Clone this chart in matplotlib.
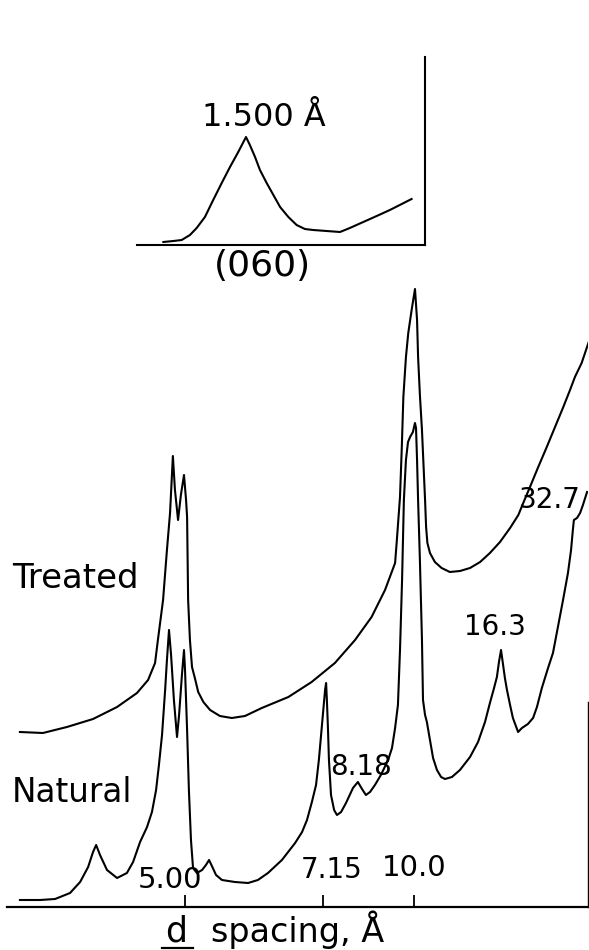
import matplotlib
matplotlib.use("Agg")
import matplotlib.pyplot as plt
import numpy as np
from matplotlib.lines import Line2D

plt.rcParams['font.family'] = ['DejaVu Sans']

# ---------------- data (2-theta in degrees, Cu K-alpha; intensity arbitrary) ----------------
WAVELENGTH = 1.5406

two_theta_natural = [24.10, 23.32, 22.74, 22.16, 21.77, 21.46, 21.27, 21.15, 21.00, 20.73,
                     20.34, 19.96, 19.72, 19.45, 19.18, 18.99, 18.83, 18.72, 18.60, 18.48,
                     18.41, 18.33, 18.25, 18.14, 18.02, 17.94, 17.83, 17.75, 17.71, 17.63,
                     17.56, 17.48, 17.40, 17.25, 17.05, 16.90, 16.78, 16.67, 16.51, 16.28,
                     15.78, 15.27, 14.89, 14.50, 13.96, 13.45, 13.18, 12.99, 12.80, 12.64,
                     12.53, 12.45, 12.37, 12.29, 12.25, 12.22, 12.18, 12.14, 12.06, 11.94,
                     11.83, 11.67, 11.48, 11.21, 11.02, 10.86, 10.71, 10.55, 10.36, 10.13,
                     9.85, 9.70, 9.58, 9.47, 9.39, 9.31, 9.24, 9.16, 9.08, 9.00,
                     8.89, 8.81, 8.77, 8.73, 8.69, 8.62, 8.54, 8.50, 8.42, 8.35,
                     8.23, 8.11, 7.96, 7.80, 7.65, 7.38, 7.07, 6.68, 6.37, 6.10,
                     5.91, 5.75, 5.64, 5.56, 5.48, 5.40, 5.33, 5.25, 5.13, 5.02,
                     4.82, 4.67, 4.44, 4.24, 4.09, 3.90, 3.66, 3.47, 3.28, 3.08,
                     2.89, 2.77, 2.70, 2.66, 2.54, 2.42, 2.31, 2.15]
intensity_natural = [7, 7, 8, 14, 25, 40, 55, 62, 52, 37,
                     29, 34, 45, 65, 80, 95, 117, 142, 172, 217,
                     247, 277, 252, 207, 170, 192, 232, 257, 237, 177,
                     117, 67, 39, 34, 37, 42, 47, 41, 32, 27,
                     25, 24, 27, 34, 47, 64, 75, 87, 105, 122,
                     147, 170, 192, 217, 224, 207, 180, 147, 112, 97,
                     92, 95, 104, 119, 125, 118, 112, 115, 122, 132,
                     147, 159, 179, 202, 257, 327, 407, 447, 465, 470,
                     475, 484, 479, 447, 407, 347, 267, 207, 192, 185,
                     167, 149, 137, 130, 128, 130, 137, 150, 165, 185,
                     204, 219, 230, 245, 257, 242, 229, 217, 202, 189,
                     175, 179, 183, 189, 200, 219, 239, 254, 280, 307,
                     334, 357, 377, 387, 389, 394, 402, 415]

two_theta_treated = [24.10, 23.21, 22.28, 21.27, 20.34, 19.57, 19.14, 18.87, 18.76, 18.56,
                     18.41, 18.29, 18.18, 18.10, 17.98, 17.87, 17.75, 17.67, 17.63, 17.59,
                     17.52, 17.44, 17.32, 17.20, 17.00, 16.74, 16.36, 15.90, 15.39, 14.74,
                     13.71, 12.81, 11.91, 11.13, 10.49, 9.97, 9.58, 9.52, 9.39, 9.32,
                     9.26, 9.16, 9.07, 8.94, 8.81, 8.73, 8.69, 8.62, 8.54, 8.42,
                     8.38, 8.33, 8.23, 8.04, 7.78, 7.46, 7.07, 6.68, 6.29, 5.91,
                     5.52, 5.13, 4.81, 4.62, 4.36, 4.04, 3.71, 3.39, 3.07, 2.81,
                     2.62, 2.36, 2.06]
intensity_treated = [175, 174, 180, 188, 200, 214, 227, 244, 267, 307,
                     357, 394, 451, 417, 387, 412, 432, 407, 390, 307,
                     267, 240, 228, 215, 205, 197, 191, 189, 191, 199,
                     210, 225, 244, 267, 290, 317, 344, 364, 410, 460,
                     510, 550, 574, 597, 618, 587, 550, 512, 477, 407,
                     380, 364, 354, 345, 339, 335, 336, 339, 345, 354,
                     365, 379, 392, 404, 420, 440, 460, 480, 500, 517,
                     530, 544, 567]

two_theta_inset = [65.00, 64.61, 64.29, 63.97, 63.71, 63.39, 63.07, 62.74, 62.42, 62.10,
                   61.80, 61.65, 61.45, 61.26, 61.00, 60.74, 60.48, 60.16, 59.84, 59.52,
                   59.20, 58.68, 58.16, 57.78, 57.26, 56.74, 56.23, 55.77, 55.39]
intensity_inset = [3, 4, 5, 10, 17, 28, 45, 62, 78, 93,
                   108, 100, 88, 75, 62, 50, 38, 28, 20, 16,
                   15, 14, 13, 17, 23, 29, 35, 41, 46]

tick_d_spacings = [5.00, 7.15, 10.0]
tick_labels = ["5.00", "7.15", "10.0"]
peak_labels = ["32.7", "16.3", "8.18"]
series_labels = ["Treated", "Natural"]
inset_peak_label = "1.500 Å"
inset_reflection = "(060)"
x_label_d = "d"
x_label_rest = "spacing, Å"


def d_to_two_theta(d):
    return 2.0 * np.degrees(np.arcsin(WAVELENGTH / (2.0 * np.asarray(d))))


W, H = 589, 950
fig = plt.figure(figsize=(W / 100, H / 100), dpi=100)
fig.patch.set_facecolor("white")


def fx(px):
    return px / W


def fy(py):
    return 1 - py / H


LW = 1.5
# ---------------- main axes ----------------
ax = fig.add_axes([fx(7), fy(907), fx(588) - fx(7), fy(280) - fy(907)])
ax.set_xlim(24.60, 2.114)
ax.set_ylim(0, 627)
ax.set_facecolor("none")
ax.plot(two_theta_natural, intensity_natural, color="black", lw=LW, solid_joinstyle="round")
ax.plot(two_theta_treated, intensity_treated, color="black", lw=LW, solid_joinstyle="round")
for s in ["top", "left"]:
    ax.spines[s].set_visible(False)
ax.spines["bottom"].set_linewidth(1.6)
ax.spines["right"].set_linewidth(1.0)
ax.spines["right"].set_bounds(0, 205)
ax.set_yticks([])
ax.set_xticks(d_to_two_theta(tick_d_spacings))
ax.set_xticklabels([])
ax.tick_params(axis="x", direction="in", length=9, width=1.3, color="black")

# tick value labels (placed above the axis)
tick_label_pos = [(18.29, 27), (12.02, 37), (8.85, 39)]
tick_label_size = [21, 20, 21]
for lab, (x, y), fs in zip(tick_labels, tick_label_pos, tick_label_size):
    ax.text(x, y, lab, ha="center", va="center", fontsize=fs)

peak_label_pos = [(3.59, 407), (5.71, 280), (10.90, 140)]
for lab, (x, y) in zip(peak_labels, peak_label_pos):
    ax.text(x, y, lab, ha="center", va="center", fontsize=20)

fig.text(fx(12), fy(578), series_labels[0], ha="left", va="center", fontsize=24.5)
fig.text(fx(12), fy(793), series_labels[1], ha="left", va="center", fontsize=23.5)

# x-axis title with underlined "d"
fig.text(fx(165), fy(942), x_label_d, ha="left", va="baseline", fontsize=25)
fig.text(fx(211), fy(942), x_label_rest, ha="left", va="baseline", fontsize=24)
fig.add_artist(Line2D([fx(162), fx(193)], [fy(947.5), fy(947.5)], color="black", lw=1.6))

# ---------------- inset ----------------
axi = fig.add_axes([fx(137), fy(245), fx(425) - fx(137), fy(57) - fy(245)])
axi.set_xlim(66.02, 54.87)
axi.set_ylim(0, 188)
axi.set_facecolor("none")
axi.plot(two_theta_inset, intensity_inset, color="black", lw=LW, solid_joinstyle="round")
for s in ["top", "left"]:
    axi.spines[s].set_visible(False)
axi.spines["bottom"].set_linewidth(1.5)
axi.spines["right"].set_linewidth(1.5)
axi.set_xticks([])
axi.set_yticks([])
fig.text(fx(264), fy(118), inset_peak_label, ha="center", va="center", fontsize=23)
fig.text(fx(262), fy(266), inset_reflection, ha="center", va="center", fontsize=26)

fig.savefig("out.png", dpi=100, facecolor="white")
